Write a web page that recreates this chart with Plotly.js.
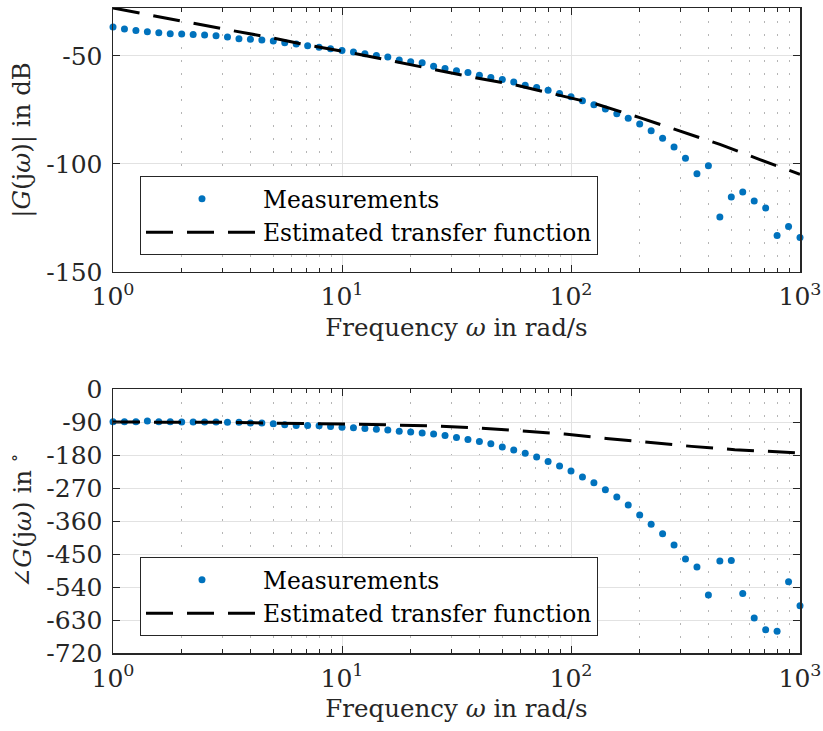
<!DOCTYPE html>
<html>
<head>
<meta charset="utf-8">
<script src="https://cdn.plot.ly/plotly-3.0.1.min.js"></script>
<style>html,body{margin:0;padding:0;background:#fff;}#chart{width:823px;height:731px;}</style>
</head>
<body>
<div id="chart"></div>
<script>
// Measurement frequencies (rad/s)
const measFreq = [1, 1.122, 1.259, 1.413, 1.585, 1.778, 1.995, 2.239, 2.512, 2.818,
  3.162, 3.548, 3.981, 4.467, 5.012, 5.623, 6.310, 7.079, 7.943, 8.913,
  10, 11.22, 12.59, 14.13, 15.85, 17.78, 19.95, 22.39, 25.12, 28.18,
  31.62, 35.48, 39.81, 44.67, 50.12, 56.23, 63.10, 70.79, 79.43, 89.13,
  100, 112.2, 125.9, 141.3, 158.5, 177.8, 199.5, 223.9, 251.2, 281.8,
  316.2, 354.8, 398.1, 446.7, 501.2, 562.3, 631.0, 707.9, 794.3, 891.3, 1000];
// Measured magnitude (dB)
const measMag = [-36.7, -37.6, -38.3, -38.9, -39.3, -39.8, -39.9, -40.1, -40.4, -40.7,
  -41.3, -42.1, -42.4, -42.7, -43.2, -44.0, -44.6, -45.4, -46.1, -46.7,
  -47.5, -48.3, -49.1, -49.9, -50.6, -51.9, -52.8, -53.2, -54.8, -55.9,
  -56.9, -57.7, -59.0, -60.1, -61.0, -62.1, -63.6, -64.7, -65.9, -67.5,
  -69.0, -70.8, -72.6, -74.6, -76.8, -78.9, -81.6, -84.7, -88.1, -92.2,
  -97.4, -104.6, -100.9, -124.6, -115.3, -113.0, -117.2, -120.4, -133.1, -128.9, -134.0];
// Measured phase (deg)
const measPhase = [-89, -89, -89, -87.5, -89, -89, -90, -90, -90, -90,
  -91, -91, -92.5, -92.5, -94.5, -97.5, -99.5, -99.5, -100, -102,
  -104, -105.5, -107.5, -110, -112, -115.5, -117.5, -120, -123, -127,
  -132, -137.5, -143, -149, -158, -166.5, -175.5, -185.5, -197.5, -210,
  -223.5, -240, -255.5, -274.5, -294.5, -316.5, -343.5, -369, -394.5, -425.5,
  -463.5, -485.5, -562, -469, -467.5, -557.5, -624.5, -656.5, -661, -525.5, -591];
// Estimated transfer function
const fitFreqMag = [1, 1.3, 1.98, 3.0, 4.57, 6.97, 10.6, 16.1, 24.5, 37.2, 57.3, 86.3, 128.8, 198, 298, 447, 668, 1000];
const fitMag = [-27.9, -30.2, -34.1, -37.5, -41.0, -44.9, -48.3, -52.2, -56.0, -59.9, -63.5, -68.1, -72.3, -78.5, -84.7, -91.0, -98.0, -104.8];
const fitFreqPh = [1, 1.98, 3.0, 4.65, 7.19, 10.9, 16.9, 25.9, 39.8, 60.7, 93.8, 142.6, 219, 336, 519, 794, 1000];
const fitPhase = [-90, -90, -91, -92.7, -93.8, -95.5, -98.2, -101, -106.4, -113.7, -122.7, -134.7, -145.6, -156.5, -165.5, -171, -174.5];

// Tick labels
const xTickVals = [1, 10, 100, 1000];
const xTickText = ['10<sup>0</sup>', '10<sup>1</sup>', '10<sup>2</sup>', '10<sup>3</sup>'];
const xMinorVals = [2,3,4,5,6,7,8,9,20,30,40,50,60,70,80,90,200,300,400,500,600,700,800,900];
const magTickVals = [-150, -100, -50];
const magTickText = ['-150', '-100', '-50'];
const phTickVals = [-720, -630, -540, -450, -360, -270, -180, -90, 0];
const phTickText = ['-720', '-630', '-540', '-450', '-360', '-270', '-180', '-90', '0'];

const seriesNames = ['Measurements', 'Estimated transfer function'];

const blue = '#0072BD';
const axisCol = '#262626';
const FONT = 'DejaVu Serif';
const TICK_SIZE = 25;
const TITLE_SIZE = 24.5;
const LEGEND_SIZE = 23.4;

const markerStyle = {color: blue, size: 7};
const lineStyle = {color: '#000000', width: 3, dash: '27px,14px'};

const traces = [
  {x: measFreq, y: measMag, type: 'scatter', mode: 'markers', name: seriesNames[0],
   marker: markerStyle, xaxis: 'x', yaxis: 'y', legend: 'legend', cliponaxis: false},
  {x: fitFreqMag, y: fitMag, type: 'scatter', mode: 'lines', name: seriesNames[1],
   line: lineStyle, xaxis: 'x', yaxis: 'y', legend: 'legend', cliponaxis: false},
  {x: measFreq, y: measPhase, type: 'scatter', mode: 'markers', name: seriesNames[0],
   marker: markerStyle, xaxis: 'x2', yaxis: 'y2', legend: 'legend2', cliponaxis: false},
  {x: fitFreqPh, y: fitPhase, type: 'scatter', mode: 'lines', name: seriesNames[1],
   line: lineStyle, xaxis: 'x2', yaxis: 'y2', legend: 'legend2', cliponaxis: false}
];

function xAxis(anchor) {
  return {
    type: 'log', range: [0, 3], anchor: anchor, domain: [0, 1],
    tickmode: 'array', tickvals: xTickVals, ticktext: xTickText,
    ticks: 'inside', ticklen: 7, tickwidth: 1, tickcolor: axisCol,
    mirror: 'allticks', showline: true, linecolor: axisCol, linewidth: 1.5,
    showgrid: true, gridcolor: '#e2e2e2', gridwidth: 1, zeroline: false,
    minor: {tickmode: 'array', tickvals: xMinorVals, ticks: 'inside', ticklen: 4,
            tickcolor: axisCol, showgrid: true, gridcolor: '#b5b5b5', griddash: '2px,11px', gridwidth: 1},
    ticklabelstandoff: 2,
    tickfont: {family: FONT, size: TICK_SIZE, color: axisCol},
    title: {text: 'Frequency <i>ω</i> in rad/s', font: {family: FONT, size: TITLE_SIZE, color: axisCol}, standoff: 8},
    automargin: false
  };
}
function yAxis(anchor, domain, range, vals, text, title) {
  return {
    anchor: anchor, domain: domain, range: range,
    tickmode: 'array', tickvals: vals, ticktext: text,
    ticks: 'inside', ticklen: 7, tickwidth: 1, tickcolor: axisCol,
    mirror: 'allticks', showline: true, linecolor: axisCol, linewidth: 1.5,
    showgrid: true, gridcolor: '#e2e2e2', gridwidth: 1, zeroline: false,
    ticklabelstandoff: 4,
    tickfont: {family: FONT, size: TICK_SIZE, color: axisCol},
    title: {text: title, font: {family: FONT, size: TITLE_SIZE, color: axisCol}, standoff: 8},
    automargin: false
  };
}

const legendBase = {
  xref: 'paper', yref: 'paper', xanchor: 'left', yanchor: 'top', x: 0.0393,
  bgcolor: '#ffffff', bordercolor: axisCol, borderwidth: 1,
  font: {family: FONT, size: LEGEND_SIZE, color: '#000000'}, itemwidth: 112, tracegroupgap: 0,
  orientation: 'v'
};

const layout = {
  width: 823, height: 731,
  margin: {l: 113, r: 23, t: 8, b: 78, pad: 0},
  paper_bgcolor: '#ffffff', plot_bgcolor: '#ffffff',
  font: {family: FONT, size: TICK_SIZE, color: axisCol},
  showlegend: true,
  xaxis: xAxis('y'),
  yaxis: yAxis('x', [0.5907, 1], [-150, -27.9], magTickVals, magTickText, '|<i>G</i>(j<i>ω</i>)| in dB'),
  xaxis2: xAxis('y2'),
  yaxis2: yAxis('x2', [0, 0.4093], [-720, 0], phTickVals, phTickText, '∠<i>G</i>(j<i>ω</i>) in <sup>∘</sup>'),
  legend: Object.assign({}, legendBase, {y: 0.7395}),
  legend2: Object.assign({}, legendBase, {y: 0.1488})
};

Plotly.newPlot('chart', traces, layout, {staticPlot: true, displayModeBar: false});
</script>
</body>
</html>
